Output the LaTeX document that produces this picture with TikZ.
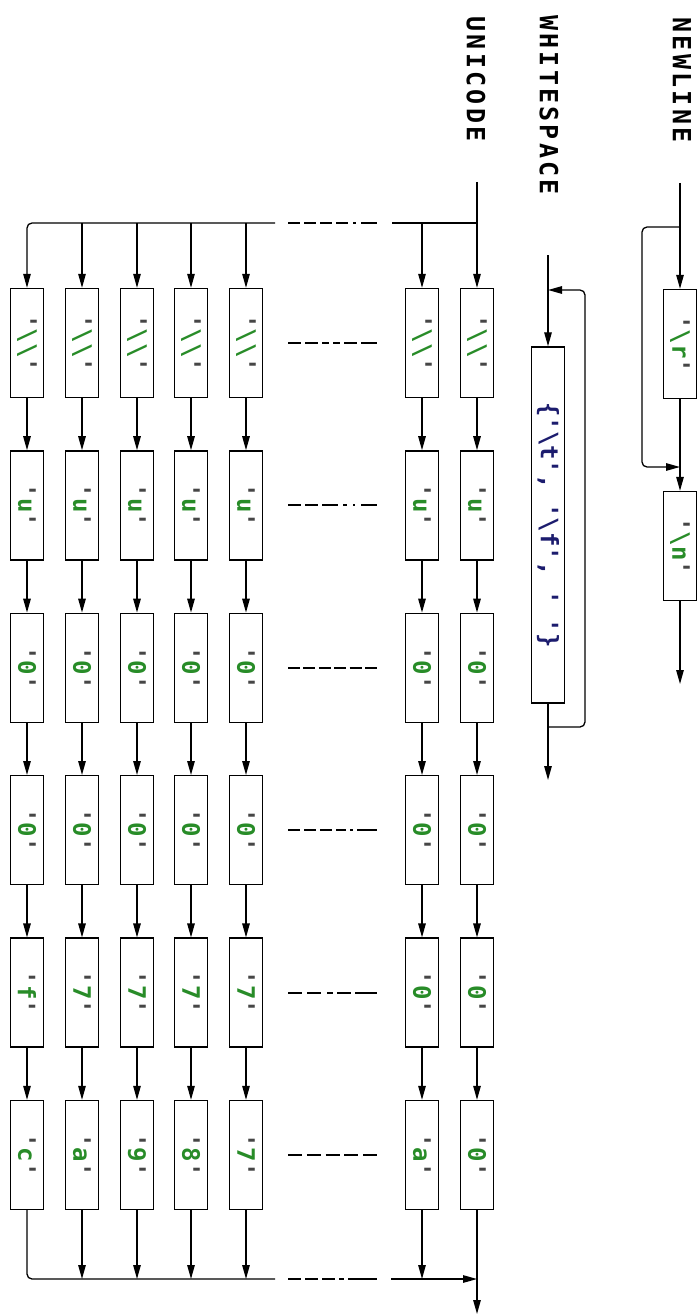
\documentclass[tikz,border=0pt]{standalone}
\usepackage{fontspec}
\usetikzlibrary{arrows.meta,positioning,calc}

\newfontfamily\railtt{DejaVu Sans Mono}
\newfontfamily\headtt[LetterSpace=13]{DejaVu Sans Mono}

\definecolor{litgreen}{RGB}{40,140,40}
\definecolor{setblue}{RGB}{28,28,110}
\definecolor{quotegray}{RGB}{70,70,70}

% a quoted character literal, turned to run down the page
\newcommand{\lit}[1]{\rotatebox{-90}{\railtt\bfseries\fontsize{24}{24}\selectfont
  \textcolor{quotegray}{\textquotesingle}\textcolor{litgreen}{#1}\textcolor{quotegray}{\textquotesingle}}}

\begin{document}
\begin{tikzpicture}[x=1pt,y=-1pt,
    rail/.style={line width=1.3pt},
    flow/.style={rail,-{Triangle[length=14pt,width=7.5pt]}},
    chr/.style={draw,line width=1.4pt,fill=white,inner sep=0pt,
      minimum width=33pt,minimum height=109pt},
    head/.style={rotate=-90,inner sep=0pt,
      font=\fontsize{25}{25}\selectfont\headtt\bfseries}]
  \useasboundingbox (0,0) rectangle (700,1316);

  % rule names
  \node[head] (nl-head) at (682,80) {NEWLINE};
  \node[head] (ws-head) at (549,105) {WHITESPACE};
  \node[head] (uc-head) at (476,79) {UNICODE};

  % NEWLINE: optional \r, then \n
  \coordinate (nl-in) at (680,183);
  \coordinate (nl-split) at (680,227);
  \coordinate (nl-join) at (680,467);
  \coordinate (nl-out) at (680,684);
  \node[chr] (cr) at (680,344) {\lit{\textbackslash r}};
  \node[chr] (lf) at (680,546) {\lit{\textbackslash n}};
  \draw[flow] (nl-in) -- (cr.north);
  \draw[flow] (cr.south) -- (lf.north);
  \draw[flow] (lf.south) -- (nl-out);
  \draw[flow,rounded corners=5pt] (nl-split) -| ([xshift=-38pt]nl-join) -- (nl-join);

  % WHITESPACE: one or more of the set
  \coordinate (ws-in) at (548,255);
  \coordinate (ws-back) at (548,290);
  \coordinate (ws-loop) at (548,727);
  \coordinate (ws-out) at (548,780);
  \node[chr,minimum height=356pt] (ws) at (548,525)
    {\rotatebox{-90}{\railtt\bfseries\fontsize{24}{24}\selectfont\color{setblue}%
      \{\textquotesingle\textbackslash t\textquotesingle,\ \textquotesingle\textbackslash f\textquotesingle,\ \textquotesingle\ \textquotesingle\}}};
  \draw[flow] (ws-in) -- (ws.north);
  \draw[flow] (ws.south) -- (ws-out);
  \draw[flow,rounded corners=5pt] (ws-loop) -| ([xshift=37pt]ws-back) -- (ws-back);

  % UNICODE: one chain of six literals per alternative
  \coordinate (uc-in) at (477,182);
  \coordinate (uc-split) at (477,223);
  \coordinate (uc-merge) at (477,1279);
  \coordinate (uc-out) at (477,1314);
  \coordinate (bus-r) at (392,223);
  \coordinate (bus-l) at (275,223);
  \coordinate (sink-r) at (391,1279);
  \coordinate (sink-l) at (275,1279);
  \foreach \x/\five/\six [count=\c] in {477/0/0,422/0/a,246/7/7,191/7/8,137/7/9,82/7/a,27/f/c}{
    \foreach \ch [count=\r] in {\textbackslash\textbackslash,u,0,0,\five,\six}
      \node[chr] (u\c-\r) at (\x,{343+162.4*(\r-1)}) {\lit{\ch}};
    \foreach \r [count=\p] in {2,...,6}
      \draw[flow] (u\c-\p.south) -- (u\c-\r.north);
  }
  \draw[flow] (uc-in) -- (u1-1.north);
  \draw[rail] (uc-split) -- (bus-r);
  \draw[flow,rounded corners=5pt] (bus-l) -| (u7-1.north);
  \foreach \c in {2,...,6}
    \draw[flow] (u\c-1.north |- uc-split) -- (u\c-1.north);
  \draw[flow] (u1-6.south) -- (uc-out);
  \draw[rail,rounded corners=5pt] (u7-6.south) |- (sink-l);
  \draw[flow] (sink-r) -- (uc-merge);
  \foreach \c in {2,...,6}
    \draw[flow] (u\c-6.south) -- (u\c-6.south |- uc-merge);

  % elided alternatives
  \draw[line width=1.6pt,dash pattern=on 12pt off 4pt on 12pt off 4pt on 12pt off 4pt on 12pt off 5pt on 3pt off 5pt on 16pt] (288,223) -- (377,223);
  \draw[line width=1.6pt,dash pattern=on 13pt off 4pt on 13pt off 4pt on 7pt off 4pt on 7pt off 4pt on 13pt off 4pt on 16pt] (288,343) -- (377,343);
  \draw[line width=1.6pt,dash pattern=on 13pt off 4pt on 13pt off 4pt on 16pt off 5pt on 4pt off 6pt on 2pt off 6pt on 16pt] (288,505) -- (377,505);
  \draw[line width=1.6pt,dash pattern=on 12pt off 3.4pt] (288,668) -- (377,668);
  \draw[line width=1.6pt,dash pattern=on 12pt off 4pt on 12pt off 4pt on 12pt off 4pt on 10pt off 4pt on 3pt off 4pt on 20pt] (288,830) -- (377,830);
  \draw[line width=1.6pt,dash pattern=on 14pt off 5pt on 14pt off 6pt on 6pt off 4pt on 14pt off 4pt on 22pt] (288,993) -- (377,993);
  \draw[line width=1.6pt,dash pattern=on 14pt off 4.75pt] (288,1155) -- (377,1155);
  \draw[line width=1.6pt,dash pattern=on 13pt off 4pt on 13pt off 4pt on 13pt off 4pt on 5pt off 4pt on 29pt] (288,1279) -- (377,1279);
\end{tikzpicture}
\end{document}
